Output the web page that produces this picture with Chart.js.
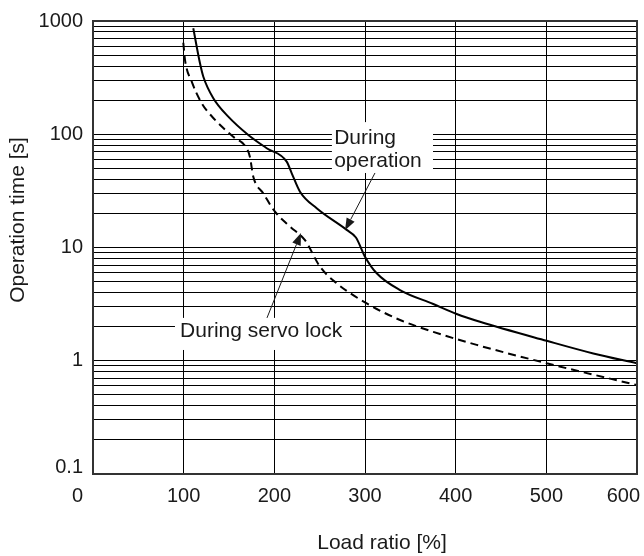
<!DOCTYPE html>
<html>
<head>
<meta charset="utf-8">
<script src="https://cdn.jsdelivr.net/npm/chart.js@4/dist/chart.umd.min.js"></script>
<style>
  body { margin: 0; background: #fff; }
  canvas { display: block; }
</style>
</head>
<body>
<canvas id="grafica" width="644" height="556"></canvas>
<script>
// Datos
const cargaOperacion = [110.6, 118, 121.7, 132.7, 149.2, 171.3, 191.6, 213.6, 219.2, 228.3, 246.7, 279.8, 290, 300, 312.9, 338.6, 375.3, 401.1, 426.8, 500.4, 551.8, 599.7];
const tiempoOperacion = [862, 423, 322, 208, 143, 98.5, 75.2, 57.3, 45.2, 31.1, 22.2, 14.3, 12.25, 8.3, 5.92, 4.21, 3.17, 2.59, 2.21, 1.50, 1.16, 0.95];

const cargaServo = [99.6, 101.5, 108.9, 119.9, 134.6, 154.7, 169.5, 173, 176.8, 187.8, 200.7, 217.3, 233.8, 250.4, 268.8, 301.9, 338.6, 375.3, 423.2, 500.4, 599.7];
const tiempoServo = [643, 452, 291, 188, 134, 95, 75.2, 63.4, 42.2, 30.1, 20.7, 15.3, 11.6, 6.77, 4.83, 3.21, 2.29, 1.80, 1.38, 0.95, 0.61];

// Etiquetas de los ejes
const ticksX = [0, 100, 200, 300, 400, 500, 600];
const ticksY = [0.1, 1, 10, 100, 1000];
const pasosDecada = [1, 2, 3, 4, 5, 6, 7, 8, 9];

const tituloX = "Load ratio [%]";
const tituloY = "Operation time [s]";

// Notas con flecha (en unidades de datos)
const notaOperacion = {
  lineas: ["During", "operation"],
  texto: { x: 266, y: 92 },
  caja: { x1: 263.5, x2: 375, y1: 128, y2: 45.5 },
  flecha: { desde: { x: 311, y: 45.5 }, hasta: { x: 278, y: 14.2 } }
};
const notaServo = {
  lineas: ["During servo lock"],
  texto: { x: 96, y: 1.81 },
  caja: { x1: 90.4, x2: 283.5, y1: 2.39, y2: 1.245 },
  flecha: { desde: { x: 191.9, y: 2.39 }, hasta: { x: 229.4, y: 13.4 } }
};

const fuente = "'Liberation Sans', Arial, sans-serif";
const colorTexto = "#1a1a1a";

const aPuntos = (xs, ys) => xs.map((x, i) => ({ x: x, y: ys[i] }));

// Lineas de la grilla logaritmica: 1..9 por cada decada
const grillaY = [];
ticksY.forEach((d) => {
  pasosDecada.forEach((p) => {
    const v = +(d * p).toPrecision(3);
    if (v <= 1000) grillaY.push(v);
  });
});

function dibujarFlecha(ctx, x1, y1, x2, y2) {
  const ang = Math.atan2(y2 - y1, x2 - x1);
  const largo = 12, medio = 4.5;
  const bx = x2 - Math.cos(ang) * largo;
  const by = y2 - Math.sin(ang) * largo;
  ctx.beginPath();
  ctx.moveTo(x1, y1);
  ctx.lineTo(bx, by);
  ctx.stroke();
  ctx.beginPath();
  ctx.moveTo(x2, y2);
  ctx.lineTo(bx + Math.sin(ang) * medio, by - Math.cos(ang) * medio);
  ctx.lineTo(bx - Math.sin(ang) * medio, by + Math.cos(ang) * medio);
  ctx.closePath();
  ctx.fill();
}

const pluginNotas = {
  id: "notas",
  beforeDatasetsDraw(chart) {
    const ctx = chart.ctx, sx = chart.scales.x, sy = chart.scales.y;
    ctx.save();
    ctx.fillStyle = "#fff";
    [notaOperacion, notaServo].forEach((n) => {
      const x1 = sx.getPixelForValue(n.caja.x1), x2 = sx.getPixelForValue(n.caja.x2);
      const y1 = sy.getPixelForValue(n.caja.y1), y2 = sy.getPixelForValue(n.caja.y2);
      ctx.fillRect(x1, y1, x2 - x1, y2 - y1);
    });
    ctx.restore();
  },
  afterDatasetsDraw(chart) {
    const ctx = chart.ctx, sx = chart.scales.x, sy = chart.scales.y;
    const area = chart.chartArea;
    ctx.save();

    // textos y flechas
    ctx.font = "21px " + fuente;
    ctx.fillStyle = colorTexto;
    ctx.strokeStyle = colorTexto;
    ctx.lineWidth = 1;
    ctx.textBaseline = "middle";
    ctx.textAlign = "left";
    [notaOperacion, notaServo].forEach((n) => {
      const tx = sx.getPixelForValue(n.texto.x), ty = sy.getPixelForValue(n.texto.y);
      n.lineas.forEach((l, i) => ctx.fillText(l, tx, ty + i * 23));
      dibujarFlecha(ctx,
        sx.getPixelForValue(n.flecha.desde.x), sy.getPixelForValue(n.flecha.desde.y),
        sx.getPixelForValue(n.flecha.hasta.x), sy.getPixelForValue(n.flecha.hasta.y));
    });

    // marco del grafico
    ctx.strokeStyle = "#333";
    ctx.lineWidth = 2;
    ctx.strokeRect(area.left, area.top, area.right - area.left, area.bottom - area.top);
    ctx.restore();
  },
  afterDraw(chart) {
    const ctx = chart.ctx, sx = chart.scales.x, sy = chart.scales.y;
    const area = chart.chartArea;
    ctx.save();
    ctx.fillStyle = colorTexto;
    ctx.font = "20px " + fuente;
    ctx.textBaseline = "middle";

    // etiquetas eje Y (la de abajo va un poco mas arriba, como en el original)
    ctx.textAlign = "right";
    ticksY.forEach((v, i) => {
      const dy = i === 0 ? -7 : 0;
      ctx.fillText(String(v), area.left - 10, sy.getPixelForValue(v) + dy);
    });

    // etiquetas eje X
    ticksX.forEach((v, i) => {
      let px = sx.getPixelForValue(v);
      if (i === 0) { ctx.textAlign = "right"; px = area.left - 10; }
      else if (i === ticksX.length - 1) { ctx.textAlign = "right"; px = area.right + 3; }
      else ctx.textAlign = "center";
      ctx.fillText(String(v), px, area.bottom + 22);
    });

    // titulos de los ejes
    ctx.font = "21px " + fuente;
    ctx.textAlign = "center";
    ctx.fillText(tituloX, 382, 543);
    ctx.translate(18, 220);
    ctx.rotate(-Math.PI / 2);
    ctx.fillText(tituloY, 0, 0);
    ctx.restore();
  }
};

const config = {
  type: "line",
  data: {
    datasets: [
      {
        label: "During operation",
        data: aPuntos(cargaOperacion, tiempoOperacion),
        borderColor: "#000",
        borderWidth: 2,
        pointRadius: 0,
        cubicInterpolationMode: "monotone"
      },
      {
        label: "During servo lock",
        data: aPuntos(cargaServo, tiempoServo),
        borderColor: "#000",
        borderWidth: 2,
        borderDash: [8, 5],
        pointRadius: 0,
        cubicInterpolationMode: "monotone"
      }
    ]
  },
  options: {
    responsive: false,
    animation: false,
    devicePixelRatio: 1,
    layout: { padding: { left: 93, right: 7, top: 21, bottom: 82 } },
    plugins: { legend: { display: false }, tooltip: { enabled: false } },
    scales: {
      x: {
        type: "linear",
        min: 0,
        max: 600,
        afterBuildTicks: (eje) => { eje.ticks = ticksX.map((v) => ({ value: v })); },
        ticks: { display: false },
        grid: { color: "#000", lineWidth: 1, drawTicks: false },
        border: { display: false }
      },
      y: {
        type: "logarithmic",
        min: 0.1,
        max: 1000,
        afterBuildTicks: (eje) => { eje.ticks = grillaY.map((v) => ({ value: v })); },
        ticks: { display: false },
        grid: { color: "#000", lineWidth: 1, drawTicks: false },
        border: { display: false }
      }
    }
  },
  plugins: [pluginNotas]
};

new Chart(document.getElementById("grafica").getContext("2d"), config);
</script>
</body>
</html>
